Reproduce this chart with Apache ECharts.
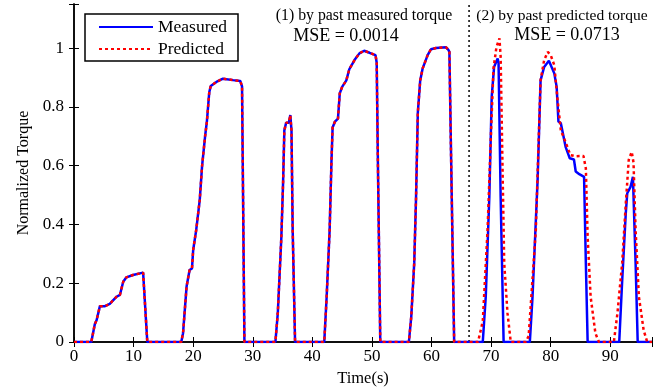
<!DOCTYPE html>
<html>
<head>
<meta charset="utf-8">
<script src="https://cdn.jsdelivr.net/npm/echarts@6/dist/echarts.min.js"></script>
<style>
html,body{margin:0;padding:0;background:#fff;}
#chart{width:661px;height:392px;}
</style>
</head>
<body>
<div id="chart"></div>
<script>
// Phase (1): prediction by past measured torque — both curves coincide
var phase1Shared = [
  [0,0],[2.9,0],[3.5,0.061],[3.8,0.075],[4.35,0.122],[5.2,0.122],[6.0,0.13],[7.15,0.154],[7.7,0.16],
  [8.26,0.205],[8.8,0.22],[9.9,0.228],[11.6,0.236],[11.9,0.23],[12.3,0],
  [18.0,0],[18.3,0.03],[18.9,0.19],[19.4,0.245],[19.8,0.25],[20.0,0.313],[20.5,0.38],[21.1,0.483],
  [21.5,0.6],[22.0,0.7],[22.3,0.75],[22.7,0.85],[22.95,0.871],[23.9,0.885],[25.0,0.896],[26.7,0.891],
  [27.9,0.888],[28.2,0.87],[28.6,0],
  [33.8,0],[34.2,0.098],[34.8,0.358],[35.1,0.55],[35.3,0.72],[35.6,0.746],[36.06,0.746],[36.3,0.772],
  [36.5,0.72],[36.7,0.38],[37.1,0],
  [42.0,0],[42.4,0.154],[42.9,0.38],[43.2,0.61],[43.4,0.73],[43.8,0.75],[44.3,0.76],[44.6,0.846],
  [45.0,0.868],[45.7,0.89],[46.2,0.928],[47.1,0.96],[47.9,0.982],[48.7,0.991],[49.6,0.984],[50.6,0.976],
  [50.8,0.95],[51.0,0.61],[51.4,0],
  [56.2,0],[56.6,0.086],[57.1,0.27],[57.4,0.49],[57.7,0.78],[58.1,0.89],[58.5,0.93],[59.35,0.976],
  [59.9,0.996],[60.75,1.0],[62.4,1.003],[62.8,0.995],[63.0,0.987],[63.3,0.61],[63.8,0],[66.3,0]
];
// Phase (2): prediction by past predicted torque
var measuredPhase2 = [
  [68.6,0],[69.1,0.154],[69.7,0.494],[70.1,0.834],[70.5,0.936],[71.1,0.965],[71.25,0.95],[71.6,0.494],[72.1,0],
  [76.5,0],[76.95,0.154],[77.8,0.55],[78.3,0.89],[78.9,0.936],[79.7,0.957],[80.6,0.914],[81.0,0.868],
  [81.3,0.75],[81.7,0.744],[82.5,0.664],[83.2,0.625],[83.9,0.621],[84.2,0.58],[84.8,0.571],[85.6,0.562],
  [85.9,0.268],[86.2,0],
  [91.5,0],[92.0,0.21],[92.6,0.438],[92.85,0.506],[93.4,0.528],[93.8,0.562],[94.25,0.268],[94.6,0],[97,0]
];
var predictedPhase2 = [
  [67.8,0],[68.6,0.07],[69.4,0.38],[70.0,0.72],[70.4,0.93],[70.9,1.004],[71.4,1.033],[71.6,0.97],
  [71.9,0.61],[72.2,0.268],[72.75,0.098],[73.3,0],
  [75.8,0],[76.3,0.02],[77.5,0.38],[78.3,0.89],[78.9,0.959],[79.5,0.987],[80.0,0.976],[80.6,0.942],
  [81.1,0.834],[81.7,0.72],[82.5,0.68],[83.3,0.636],[84.2,0.632],[85.5,0.633],[85.9,0.59],[86.2,0.358],
  [86.7,0.154],[87.5,0.03],[88.1,0],
  [90.6,0],[91.2,0.098],[92.0,0.27],[92.6,0.47],[93.1,0.62],[93.6,0.647],[93.9,0.61],[94.25,0.38],
  [94.8,0.154],[95.6,0.04],[96.2,0],[97,0]
];
var splitTime = 66.3;
var xTicks = [0,10,20,30,40,50,60,70,80,90];
var yTicks = [0,0.2,0.4,0.6,0.8,1];
var seriesNames = ['Measured','Predicted'];
var annot1 = ['(1) by past measured torque','MSE = 0.0014'];
var annot2 = ['(2) by past predicted torque','MSE = 0.0713'];

var measured = phase1Shared.concat(measuredPhase2);
var predicted = phase1Shared.concat(predictedPhase2);

var FONT = '"Liberation Serif","Times New Roman",serif';
var chart = echarts.init(document.getElementById('chart'), null, {renderer:'canvas'});

function xFmt(v){ return xTicks.indexOf(v) >= 0 ? String(v) : ''; }
function yFmt(v){
  for (var i=0;i<yTicks.length;i++){ if (Math.abs(v-yTicks[i])<1e-6) return String(yTicks[i]); }
  return '';
}
var axisLine = {show:true, lineStyle:{color:'#000', width:1.5}};
var tick = {show:true, inside:true, length:5, lineStyle:{color:'#000', width:1}};

chart.setOption({
  animation:false,
  backgroundColor:'#fff',
  grid:{left:74, right:9, top:4, bottom:50, containLabel:false},
  legend:{
    data:seriesNames, orient:'vertical', left:85, top:14,
    padding:[4,11,3,13], itemGap:4, itemWidth:54, itemHeight:14,
    borderColor:'#000', borderWidth:1.5, backgroundColor:'#fff',
    itemStyle:{opacity:0},
    textStyle:{fontFamily:FONT, fontSize:17.5, color:'#000'}
  },
  xAxis:[
    {type:'value', position:'bottom', min:0, max:97, interval:10,
     axisLine:axisLine, axisTick:tick, splitLine:{show:false},
     axisLabel:{formatter:xFmt, fontFamily:FONT, fontSize:17, color:'#000', margin:6},
     name:'Time(s)', nameLocation:'middle', nameGap:28,
     nameTextStyle:{fontFamily:FONT, fontSize:16.5, color:'#000'}},
    {type:'value', position:'top', min:0, max:97, interval:10,
     axisLine:axisLine, axisTick:tick, splitLine:{show:false}, axisLabel:{show:false}}
  ],
  yAxis:[
    {type:'value', position:'left', min:0, max:1.15, interval:0.2,
     axisLine:axisLine, axisTick:tick, splitLine:{show:false},
     axisLabel:{formatter:yFmt, fontFamily:FONT, fontSize:17, color:'#000', margin:10},
     name:'Normalized Torque', nameLocation:'middle', nameGap:40,
     nameTextStyle:{fontFamily:FONT, fontSize:16, color:'#000'}},
    {type:'value', position:'right', min:0, max:1.15, interval:0.2,
     axisLine:axisLine, axisTick:tick, splitLine:{show:false}, axisLabel:{show:false}}
  ],
  series:[
    {name:'Measured', type:'line', data:measured, showSymbol:false, symbol:'none',
     lineStyle:{color:'#0000ff', width:2.5}, itemStyle:{color:'#0000ff'}, z:3},
    {name:'Predicted', type:'line', data:predicted, showSymbol:false, symbol:'none',
     lineStyle:{color:'#ff0000', width:2.5, type:[3,3]}, itemStyle:{color:'#ff0000'}, z:4},
    {name:'split', type:'line', data:[[splitTime,0],[splitTime,1.15]], showSymbol:false, symbol:'none',
     lineStyle:{color:'#000', width:1.5, type:[2,3]}, z:2, silent:true}
  ],
  graphic:[
    {type:'text', x:364, y:16, style:{text:annot1[0], fontFamily:FONT, fontSize:15.8, fill:'#000', align:'center', verticalAlign:'middle'}},
    {type:'text', x:346, y:36, style:{text:annot1[1], fontFamily:FONT, fontSize:18, fill:'#000', align:'center', verticalAlign:'middle'}},
    {type:'text', x:562, y:16, style:{text:annot2[0], fontFamily:FONT, fontSize:15.5, fill:'#000', align:'center', verticalAlign:'middle'}},
    {type:'text', x:567, y:35, style:{text:annot2[1], fontFamily:FONT, fontSize:18, fill:'#000', align:'center', verticalAlign:'middle'}}
  ]
});
</script>
</body>
</html>
